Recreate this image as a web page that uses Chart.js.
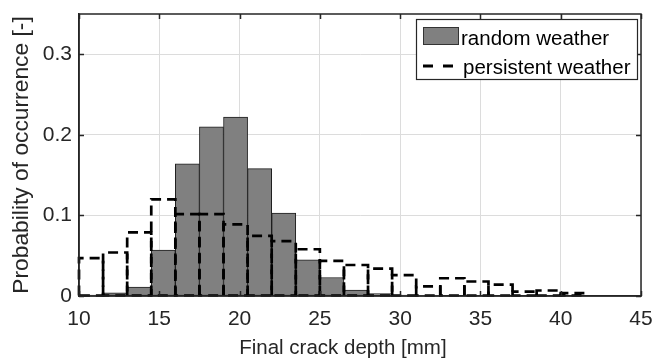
<!DOCTYPE html>
<html>
<head>
<meta charset="utf-8">
<script src="https://cdn.jsdelivr.net/npm/chart.js@4/dist/chart.umd.min.js"></script>
<style>
  html, body { margin: 0; padding: 0; background: #fff; }
  #wrap { width: 657px; height: 358px; position: relative; }
</style>
</head>
<body>
<div id="wrap"><canvas id="c" width="657" height="358"></canvas></div>
<script>
// ---- data ----
const binStart = 10;
const binWidth = 1.5;
const binCenters = [10.75, 12.25, 13.75, 15.25, 16.75, 18.25, 19.75, 21.25, 22.75, 24.25, 25.75,
                    27.25, 28.75, 30.25, 31.75, 33.25, 34.75, 36.25, 37.75, 39.25, 40.75];
const randomWeather = [0.001, 0.004, 0.011, 0.057, 0.164, 0.210, 0.222, 0.158, 0.103, 0.045, 0.023,
                       0.0075, 0.003, 0.001, 0.0005, 0, 0, 0, 0, 0, 0];
const persistentWeather = [0.047, 0.054, 0.079, 0.120, 0.1015, 0.1015, 0.089, 0.0745, 0.068, 0.058, 0.0435,
                           0.0385, 0.034, 0.026, 0.012, 0.022, 0.018, 0.014, 0.0055, 0.0068, 0.0035];
const xTickValues = [10, 15, 20, 25, 30, 35, 40, 45];
const yTickValues = [0, 0.1, 0.2, 0.3];
const yTickLabels = ['0', '0.1', '0.2', '0.3'];
const seriesNames = ['random weather', 'persistent weather'];
const xTitle = 'Final crack depth [mm]';
const yTitle = 'Probability of occurrence [-]';

const FONT = '"Liberation Sans", Arial, Helvetica, sans-serif';
const TXT = '#262626';

const toXY = (vals) => binCenters.map((c, i) => ({ x: c, y: vals[i] }));

// dashed outlines for the persistent-weather histogram, using the library's bar geometry
const dashedBars = {
  id: 'dashedBars',
  afterDatasetsDraw(chart) {
    const meta = chart.getDatasetMeta(1);
    const ctx = chart.ctx;
    ctx.save();
    ctx.strokeStyle = '#000';
    ctx.lineWidth = 2.7;
    ctx.setLineDash([10, 6]);
    meta.data.forEach((el) => {
      const p = el.getProps(['x', 'y', 'base', 'width'], true);
      const l = p.x - p.width / 2, r = p.x + p.width / 2;
      ctx.beginPath();
      ctx.moveTo(l, p.base);
      ctx.lineTo(l, p.y);
      ctx.lineTo(r, p.y);
      ctx.lineTo(r, p.base);
      ctx.closePath();
      ctx.stroke();
    });
    ctx.restore();
  }
};

// axes box, inward ticks and legend
const frame = {
  id: 'frame',
  afterDraw(chart) {
    const ctx = chart.ctx;
    const a = chart.chartArea;
    const xs = chart.scales.x, ys = chart.scales.y;
    ctx.save();
    ctx.strokeStyle = TXT;
    ctx.lineWidth = 1.5;
    ctx.setLineDash([]);
    // inward ticks
    ctx.beginPath();
    xTickValues.forEach((v) => {
      const px = Math.round(xs.getPixelForValue(v)) + 0.5;
      ctx.moveTo(px, a.top); ctx.lineTo(px, a.top + 5);
      ctx.moveTo(px, a.bottom); ctx.lineTo(px, a.bottom - 5);
    });
    yTickValues.forEach((v) => {
      const py = Math.round(ys.getPixelForValue(v)) + 0.5;
      ctx.moveTo(a.left, py); ctx.lineTo(a.left + 5, py);
      ctx.moveTo(a.right, py); ctx.lineTo(a.right - 5, py);
    });
    ctx.stroke();
    ctx.strokeRect(a.left, a.top, a.right - a.left, a.bottom - a.top);

    // legend
    const lx = a.right - 225, ly = a.top + 5, lw = 221, lh = 60;
    ctx.fillStyle = '#fff';
    ctx.fillRect(lx, ly, lw, lh);
    ctx.lineWidth = 1.2;
    ctx.strokeStyle = TXT;
    ctx.strokeRect(lx + 0.5, ly + 0.5, lw, lh);
    // swatch 1
    ctx.fillStyle = '#808080';
    ctx.fillRect(lx + 7, ly + 8, 36, 18);
    ctx.lineWidth = 1;
    ctx.strokeStyle = '#333';
    ctx.strokeRect(lx + 7.5, ly + 8.5, 35, 17);
    // swatch 2 (dashed line)
    ctx.strokeStyle = '#000';
    ctx.lineWidth = 3;
    ctx.setLineDash([10, 10]);
    ctx.beginPath();
    ctx.moveTo(lx + 7, ly + 47); ctx.lineTo(lx + 43, ly + 47);
    ctx.stroke();
    ctx.setLineDash([]);
    ctx.fillStyle = '#000';
    ctx.font = '20.5px ' + FONT;
    ctx.textBaseline = 'alphabetic';
    ctx.textAlign = 'left';
    ctx.fillText(seriesNames[0], lx + 45, ly + 26);
    ctx.fillText(seriesNames[1], lx + 47, ly + 55);
    ctx.restore();
  }
};

new Chart(document.getElementById('c'), {
  type: 'bar',
  data: {
    datasets: [
      {
        label: seriesNames[0],
        data: toXY(randomWeather),
        backgroundColor: '#808080',
        borderColor: '#1e1e1e',
        borderWidth: 1,
        borderSkipped: false,
        grouped: false,
        barPercentage: 1,
        categoryPercentage: 1
      },
      {
        label: seriesNames[1],
        data: toXY(persistentWeather),
        backgroundColor: 'rgba(0,0,0,0)',
        borderWidth: 0,
        grouped: false,
        barPercentage: 1,
        categoryPercentage: 1
      }
    ]
  },
  options: {
    responsive: false,
    animation: false,
    devicePixelRatio: 1,
    layout: { padding: { top: 14, right: 16, left: 0, bottom: 0 } },
    plugins: { legend: { display: false }, tooltip: { enabled: false } },
    scales: {
      x: {
        type: 'linear',
        min: binStart,
        max: 45,
        offset: false,
        afterBuildTicks: (s) => { s.ticks = xTickValues.map((v) => ({ value: v })); },
        afterFit: (s) => { s.height = 62; s.paddingLeft = 0; s.paddingRight = 0; },
        grid: { color: '#dcdcdc', lineWidth: 1, drawTicks: false, offset: false },
        border: { display: true, color: TXT, width: 1.5 },
        ticks: { color: TXT, font: { family: FONT, size: 21 }, padding: 11, maxRotation: 0 },
        title: { display: true, text: xTitle + '\u00A0\u00A0\u00A0\u00A0\u00A0\u00A0', color: TXT,
                 font: { family: FONT, size: 20.5, lineHeight: 1 }, padding: { top: 0, bottom: -1 } }
      },
      y: {
        type: 'linear',
        min: 0,
        max: 0.35,
        afterBuildTicks: (s) => { s.ticks = yTickValues.map((v) => ({ value: v })); },
        afterFit: (s) => { s.width = 79; s.paddingTop = 0; s.paddingBottom = 0; },
        grid: { color: '#dcdcdc', lineWidth: 1, drawTicks: false },
        border: { display: true, color: TXT, width: 1.5 },
        ticks: {
          color: TXT, font: { family: FONT, size: 21 }, padding: 7,
          callback: (v) => { const i = yTickValues.indexOf(v); return i >= 0 ? yTickLabels[i] : ''; }
        },
        title: { display: true, text: yTitle, color: TXT, font: { family: FONT, size: 22.8, lineHeight: 1 }, padding: { top: 10, bottom: 0 } }
      }
    }
  },
  plugins: [dashedBars, frame]
});
</script>
</body>
</html>
